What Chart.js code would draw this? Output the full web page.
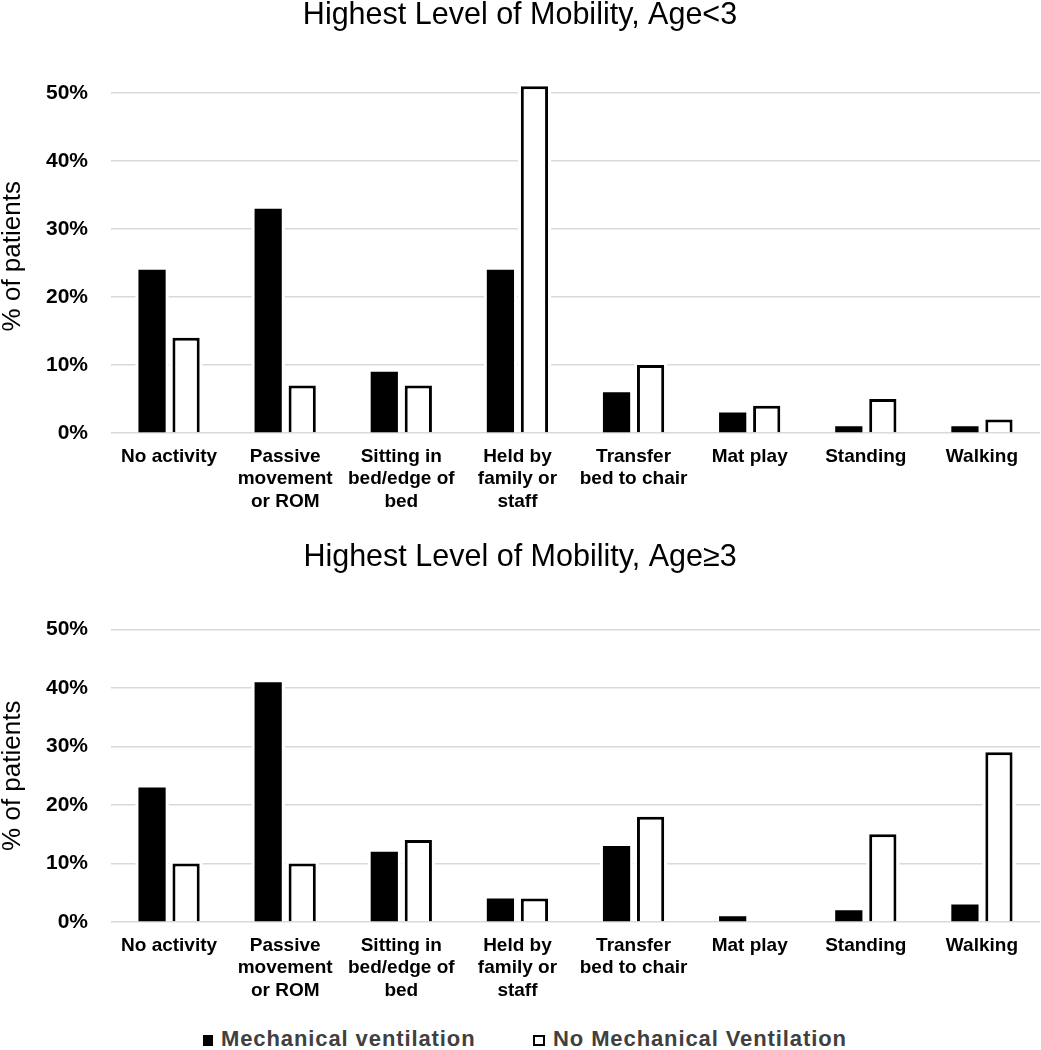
<!DOCTYPE html>
<html lang="en">
<head>
    <meta charset="UTF-8">
    <title>Highest Level of Mobility</title>
    <script src="https://cdn.jsdelivr.net/npm/chart.js"></script>
    <style>
        body { margin: 0; background: #fff; font-family: "Liberation Sans", Arial, sans-serif; }
        #page { position: relative; width: 1041px; height: 1050px; overflow: hidden; }
        .box { position: absolute; left: 0; width: 1041px; }
        #top { top: 0; height: 520px; }
        #bottom { top: 520px; height: 490px; }
        .leg { position: absolute; top: 1027px; font-size: 22px; font-weight: bold; letter-spacing: 0.9px; color: #404040; line-height: 24px; white-space: nowrap; }
        .leg i { display: inline-block; width: 10px; height: 11px; margin-right: 8px; vertical-align: 0px; box-sizing: border-box; }
    </style>
</head>
<body>
<div id="page">
    <div class="box" id="top"><canvas id="chartTop"></canvas></div>
    <div class="box" id="bottom"><canvas id="chartBottom"></canvas></div>
    <div class="leg" style="left:203px"><i style="background:#000"></i>Mechanical ventilation</div>
    <div class="leg" style="left:533px"><i style="width:12px;border:2px solid #000;background:#fff"></i>No Mechanical Ventilation</div>
</div>

<script>
    // data (% of patients)
    const categories = [
        'No activity',
        ['Passive', 'movement', 'or ROM'],
        ['Sitting in', 'bed/edge of', 'bed'],
        ['Held by', 'family or', 'staff'],
        ['Transfer', 'bed to chair'],
        'Mat play',
        'Standing',
        'Walking'
    ];
    const seriesNames = ['Mechanical ventilation', 'No Mechanical Ventilation'];
    const under3MV = [24, 33, 9, 24, 6, 3, 1, 1];
    const under3NoMV = [14, 7, 7, 51, 10, 4, 5, 2];
    const over3MV = [23, 41, 12, 4, 13, 1, 2, 3];
    const over3NoMV = [10, 10, 14, 4, 18, 0, 15, 29];
    const yTicks = [0, 10, 20, 30, 40, 50];

    const FONT = '"Liberation Sans", Arial, sans-serif';

    // white halo round the bars so the gridlines stop short of them
    const barHalo = {
        id: 'barHalo',
        beforeDatasetsDraw(chart) {
            const ctx = chart.ctx;
            const zeroY = chart.scales.y.getPixelForValue(0);
            ctx.save();
            ctx.fillStyle = '#fff';
            chart.data.datasets.forEach((ds, i) => {
                chart.getDatasetMeta(i).data.forEach(bar => {
                    if (bar.base - bar.y < 1) return;
                    ctx.fillRect(bar.x - bar.width / 2 - 3, bar.y - 3, bar.width + 6, zeroY - bar.y + 2);
                });
            });
            ctx.restore();
        }
    };

    function makeChart(id, title, mv, noMv, yMax, titlePad, xAxisH) {
        return new Chart(document.getElementById(id), {
            type: 'bar',
            data: {
                labels: categories,
                datasets: [
                    { label: seriesNames[0], data: mv, backgroundColor: '#000', borderWidth: 0 },
                    { label: seriesNames[1], data: noMv, backgroundColor: '#fff', borderColor: '#000', borderWidth: 3 }
                ]
            },
            plugins: [barHalo],
            options: {
                responsive: true,
                maintainAspectRatio: false,
                animation: false,
                datasets: { bar: { categoryPercentage: 0.586, barPercentage: 0.8 } },
                layout: { padding: { left: 0, right: 1, top: 0, bottom: 0 } },
                plugins: {
                    legend: { display: false },
                    tooltip: { enabled: false },
                    title: {
                        display: true,
                        text: title,
                        color: '#000',
                        font: { family: FONT, size: 30.5, weight: 'normal', lineHeight: 1 },
                        padding: titlePad
                    }
                },
                scales: {
                    x: {
                        grid: { display: false, drawTicks: false },
                        border: { display: false },
                        ticks: {
                            color: '#000',
                            padding: 12,
                            autoSkip: false,
                            maxRotation: 0,
                            font: { family: FONT, size: 19, weight: 'bold', lineHeight: 1.2 }
                        },
                        afterFit: s => { s.height = xAxisH; }
                    },
                    y: {
                        min: 0,
                        max: yMax,
                        afterBuildTicks: s => { s.ticks = yTicks.map(v => ({ value: v })); },
                        grid: { color: '#d9d9d9', lineWidth: 1.5, drawTicks: false },
                        border: { display: false },
                        ticks: {
                            color: '#000',
                            padding: 23,
                            font: { family: FONT, size: 21, weight: 'bold' },
                            callback: v => v + '%'
                        },
                        title: {
                            display: true,
                            text: '% of patients',
                            color: '#000',
                            padding: 0,
                            font: { family: FONT, size: 26, weight: 'normal', lineHeight: 1 }
                        },
                        afterFit: s => { s.width = 111; }
                    }
                }
            }
        });
    }

    makeChart('chartTop', 'Highest Level of Mobility, Age<3', under3MV, under3NoMV, 52,
        { top: 0, bottom: 49 }, 87);
    makeChart('chartBottom', 'Highest Level of Mobility, Age\u22653', over3MV, over3NoMV, 50,
        { top: 22, bottom: 57 }, 88);
</script>
</body>
</html>
